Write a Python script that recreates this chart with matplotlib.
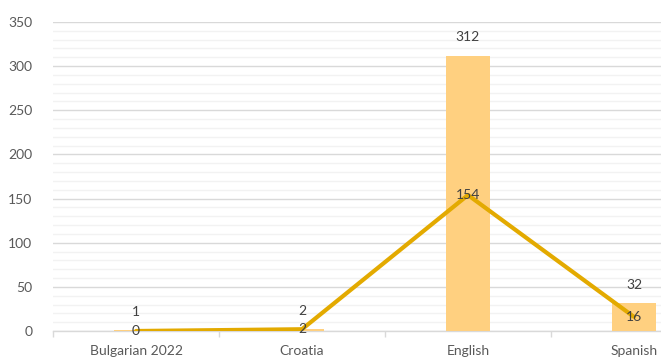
import matplotlib
matplotlib.use("Agg")
import matplotlib.pyplot as plt
from matplotlib.ticker import MultipleLocator, FixedLocator
import numpy as np

categories = ["Bulgarian 2022", "Croatia", "English", "Spanish"]
bar_values = [1, 2, 312, 32]
line_values = [0, 2, 154, 16]

plt.rcParams['font.family'] = ['Lato', 'DejaVu Sans']

W, H = 661, 358
fig = plt.figure(figsize=(W / 100, H / 100), dpi=100)
left, right, bottom, top = 53, 717, 331, 22
ax = fig.add_axes([left / W, (H - bottom) / H, (right - left) / W, (bottom - top) / H])

x = np.arange(len(categories))
bar_color = "#FFD080"
line_color = "#E3AA00"
text_color = "#404040"
fs = 10

ax.bar(x, bar_values, width=0.265, color=bar_color, zorder=2)
ax.plot(x, line_values, color=line_color, linewidth=3.0, zorder=3, solid_capstyle="round")

for xi, v in zip(x, bar_values):
    ax.annotate(str(v), (xi, v), xytext=(0, 13), textcoords="offset points",
                ha="center", va="center", fontsize=fs, color=text_color, zorder=5)
for xi, v in zip(x, line_values):
    ax.annotate(str(v), (xi, v), xytext=(0, 0), textcoords="offset points",
                ha="center", va="center", fontsize=fs, color=text_color, zorder=5)

ax.set_xlim(-0.5, len(categories) - 0.5)
ax.set_ylim(0, 350)
ax.yaxis.set_major_locator(MultipleLocator(50))
ax.yaxis.set_minor_locator(MultipleLocator(10))
ax.grid(axis="y", which="major", color="#D9D9D9", linewidth=1.0, zorder=0)
ax.grid(axis="y", which="minor", color="#F2F2F2", linewidth=1.0, zorder=0)
ax.set_axisbelow(True)

ax.set_xticks(x)
ax.set_xticklabels(categories)
ax.xaxis.set_minor_locator(FixedLocator(np.arange(-0.5, len(categories), 1.0)))
ax.tick_params(axis="x", which="major", length=0, pad=10, labelsize=fs, labelcolor="#595959")
ax.tick_params(axis="x", which="minor", length=4, color="#D9D9D9", width=1.0)
ax.tick_params(axis="y", which="both", length=0, pad=15, labelsize=fs, labelcolor="#595959")

for s in ["top", "right", "left"]:
    ax.spines[s].set_visible(False)
ax.spines["bottom"].set_color("#D9D9D9")
ax.spines["bottom"].set_linewidth(1.0)
ax.spines["bottom"].set_zorder(1)

fig.savefig("out.png", dpi=100)
